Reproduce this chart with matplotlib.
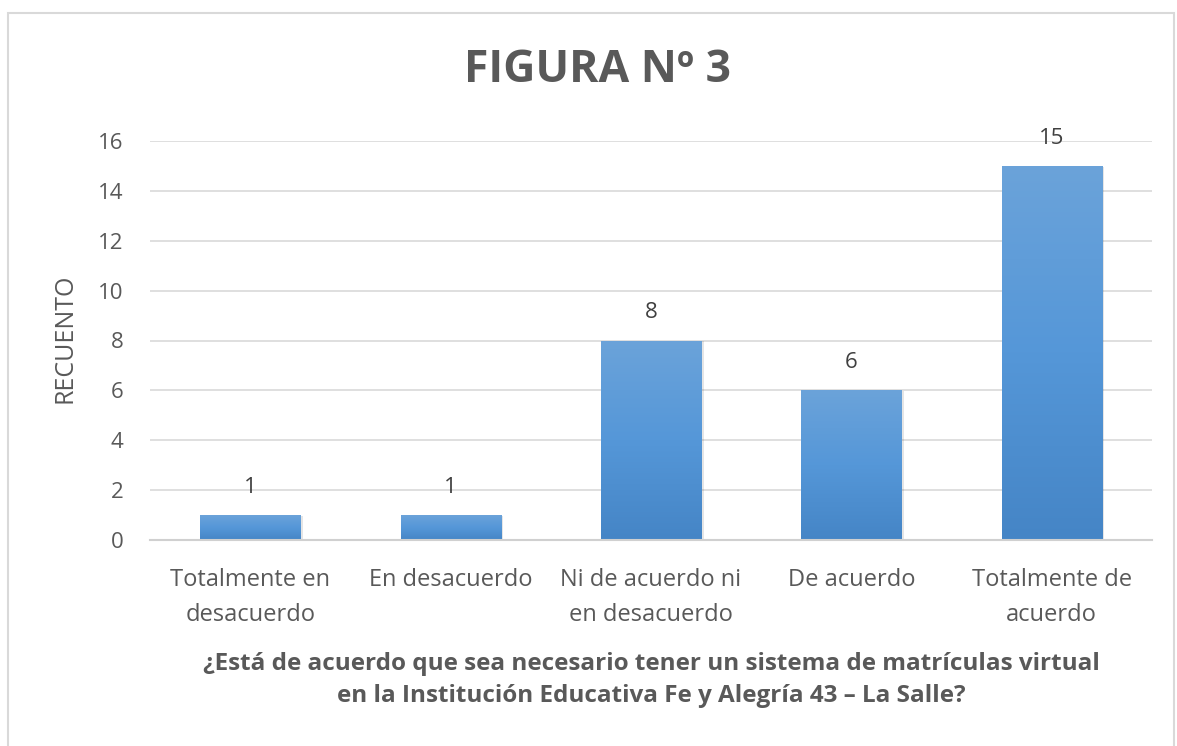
import matplotlib
matplotlib.use("Agg")
import matplotlib.pyplot as plt
import numpy as np
from matplotlib.patches import Rectangle
from matplotlib.colors import LinearSegmentedColormap

categories = ["Totalmente en\ndesacuerdo", "En desacuerdo", "Ni de acuerdo ni\nen desacuerdo",
              "De acuerdo", "Totalmente de\nacuerdo"]
values = [1, 1, 8, 6, 15]
yticks = [0, 2, 4, 6, 8, 10, 12, 14, 16]
title = "FIGURA Nº 3"
ylabel = "RECUENTO"
xlabel = "¿Está de acuerdo que sea necesario tener un sistema de matrículas virtual\nen la Institución Educativa Fe y Alegría 43 – La Salle?"

plt.rcParams['font.family'] = ['Open Sans', 'DejaVu Sans']
grey = "#595959"

fig = plt.figure(figsize=(11.77, 7.46), dpi=100)
ax = fig.add_axes([150/1177, 206/746, 1002/1177, 399/746])

x = np.arange(len(values))
bars = ax.bar(x, values, width=0.5, color="#5b9bd5", zorder=2)

cmap = LinearSegmentedColormap.from_list("g", ["#4585c6", "#5597d8", "#6ba3da"])
grad = np.linspace(0, 1, 256).reshape(-1, 1)
for b in bars:
    bx, by, bw, bh = b.get_x(), b.get_y(), b.get_width(), b.get_height()
    sh = Rectangle((bx + 0.012, by), bw, bh - 0.04, facecolor="#000000", alpha=0.10,
                   zorder=1.9, edgecolor="none")
    ax.add_patch(sh)
    im = ax.imshow(grad, extent=(bx, bx + bw, by, by + bh), origin="lower",
                   cmap=cmap, aspect="auto", zorder=2.1)
    im.set_clip_path(b)
    ax.text(bx + bw / 2, by + bh + 1.12, str(int(bh)), ha="center", va="center",
            fontsize=16, color="#404040")
ax.set_xlim(-0.5, len(values) - 0.5)
ax.set_ylim(0, 16)

ax.set_yticks(yticks)
ax.set_yticklabels([str(t) for t in yticks], fontsize=16, color=grey)
ax.set_xticks(x)
ax.set_xticklabels(categories, fontsize=17, color=grey, linespacing=1.62)
ax.tick_params(axis="both", length=0)
ax.tick_params(axis="y", pad=19)
ax.tick_params(axis="x", pad=20)
ax.grid(axis="y", color="#d9d9d9", linewidth=1.2, zorder=0)
ax.set_axisbelow(True)
for s in ["top", "right", "left"]:
    ax.spines[s].set_visible(False)
ax.spines["bottom"].set_color("#d0d0d0")
ax.spines["bottom"].set_linewidth(1.5)

fig.text(65/1177, 1 - 338/746, ylabel, rotation=90, ha="center", va="center",
         fontsize=18, color=grey)
fig.text(651/1177, 1 - 680/746, xlabel, ha="center", va="center", fontsize=17.5,
         color=grey, fontweight="bold", linespacing=1.5)

fig.text(598/1177, 1 - 70/746, title, ha="center", va="center", fontsize=32,
         fontweight="bold", color=grey)

border = Rectangle((8/1177, -0.05), 1166/1177, 1 - 13/746 + 0.05, transform=fig.transFigure,
                   fill=False, edgecolor="#d9d9d9", linewidth=1.5)
fig.patches.append(border)

fig.savefig("out.png", dpi=100, facecolor="white")
